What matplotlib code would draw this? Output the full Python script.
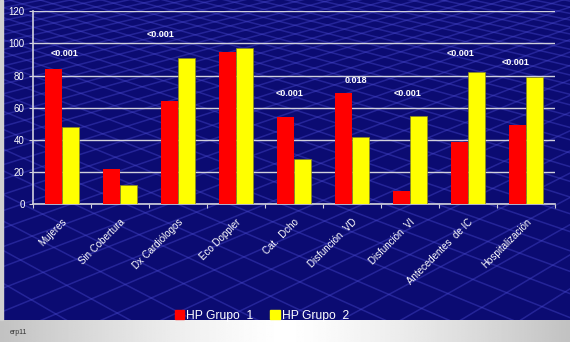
import numpy as np
import matplotlib
matplotlib.use("Agg")
import matplotlib.pyplot as plt
from matplotlib.patches import Patch

plt.rcParams['font.family'] = ['Liberation Sans', 'DejaVu Sans']

categories = ["Mujeres", "Sin Cobertura", "Dx Cardiólogos", "Eco Doppler", "Cat.  Dcho",
              "Disfunción  VD", "Disfunción  VI", "Antecedentes  de IC", "Hospitalización"]
grupo1 = [84, 22, 64, 95, 54, 69, 8, 39, 49]
grupo2 = [48, 12, 91, 97, 28, 42, 55, 82, 79]
p_values = ["<0.001", "", "<0.001", "", "<0.001", "0.018", "<0.001", "<0.001", "<0.001"]
p_heights = [94, None, 105.5, None, 69, 77, 69, 94, 88]
p_offsets = [0.05, 0, -0.3, 0, -0.08, 0.07, -0.04, -0.12, -0.18]
series_names = ["HP Grupo  1", "HP Grupo  2"]

W, H = 570, 342
fig = plt.figure(figsize=(W / 100, H / 100), dpi=100)
fig.patch.set_facecolor("#0b0b72")

# background: navy panel with a perspective floor grid, grey strip at the bottom
bg = fig.add_axes([0, 0, 1, 1], zorder=-1)
bg.set_xlim(0, W)
bg.set_ylim(H, 0)
bg.axis("off")
bg.add_patch(plt.Rectangle((0, 0), W, H, color="#0b0b72"))
va = (1500, -300)
vb = (-1000, -300)
for x0 in np.arange(-2800, 2800, 62):
    bg.plot([va[0], x0], [va[1], H], color="#4b4bd2", lw=1.1, alpha=0.4)
for x0 in np.arange(-2800, 3400, 66):
    bg.plot([vb[0], x0], [vb[1], H], color="#4b4bd2", lw=1.1, alpha=0.4)
grad = np.abs(np.linspace(-1, 1, 400)) ** 1.3
grad = 1.0 - 0.24 * grad
bg.imshow(np.tile(grad, (10, 1)), cmap="gray", vmin=0, vmax=1, aspect="auto",
          extent=(0, W, H, 320), zorder=5)
bg.add_patch(plt.Rectangle((0, 0), 3, 320, color="#d0d0d0", zorder=5))
bg.text(10, 333, "erp11", fontsize=5, color="#333333", va="center", zorder=6)

ax = fig.add_axes([33 / W, 1 - 204.3 / H, 522 / W, 193 / H])
ax.set_facecolor("none")
x = np.arange(len(categories))
bw = 0.29
ax.bar(x - bw / 2, grupo1, bw, color="#ff0000", zorder=3, label=series_names[0])
ax.bar(x + bw / 2, grupo2, bw, color="#ffff00", edgecolor="#8a8a20", linewidth=0.5,
       zorder=3, label=series_names[1])

for i, (txt, h) in enumerate(zip(p_values, p_heights)):
    if txt:
        ax.text(i + p_offsets[i], h, txt, color="white", fontsize=6.5, fontweight="bold",
                ha="center", va="center", zorder=4)

ax.set_xlim(-0.5, len(categories) - 0.5)
ax.set_ylim(0, 120)
ax.set_yticks(range(0, 121, 20))
ax.yaxis.grid(True, color="#d0d0dc", lw=1.0, zorder=1)
ax.set_axisbelow(True)
ax.set_xticks(np.arange(-0.5, len(categories), 1.0))
ax.set_xticklabels([])
ax.set_xticks(x, minor=True)
ax.set_xticklabels(categories, minor=True, rotation=45, ha="right", va="top",
                   rotation_mode="anchor", fontsize=7, color="white")
ax.tick_params(axis="x", which="minor", length=0, pad=9)
ax.tick_params(axis="x", which="major", length=3, color="#d0d0dc", direction="out")
ax.tick_params(axis="y", length=3, color="#d0d0dc", labelsize=7, labelcolor="white", pad=3)
for side in ["top", "right"]:
    ax.spines[side].set_visible(False)
for side in ["left", "bottom"]:
    ax.spines[side].set_color("#d0d0dc")
    ax.spines[side].set_linewidth(1.2)

handles = [Patch(color="#ff0000"), Patch(color="#ffff00")]
fig.legend(handles, series_names, loc="center", bbox_to_anchor=(262 / W, 1 - 316 / H),
           ncol=2, frameon=False, fontsize=8.7, labelcolor="white", handlelength=0.75,
           handleheight=0.75, handletextpad=0.2, columnspacing=1.4)

fig.savefig("out.png", dpi=100, facecolor=fig.get_facecolor())
